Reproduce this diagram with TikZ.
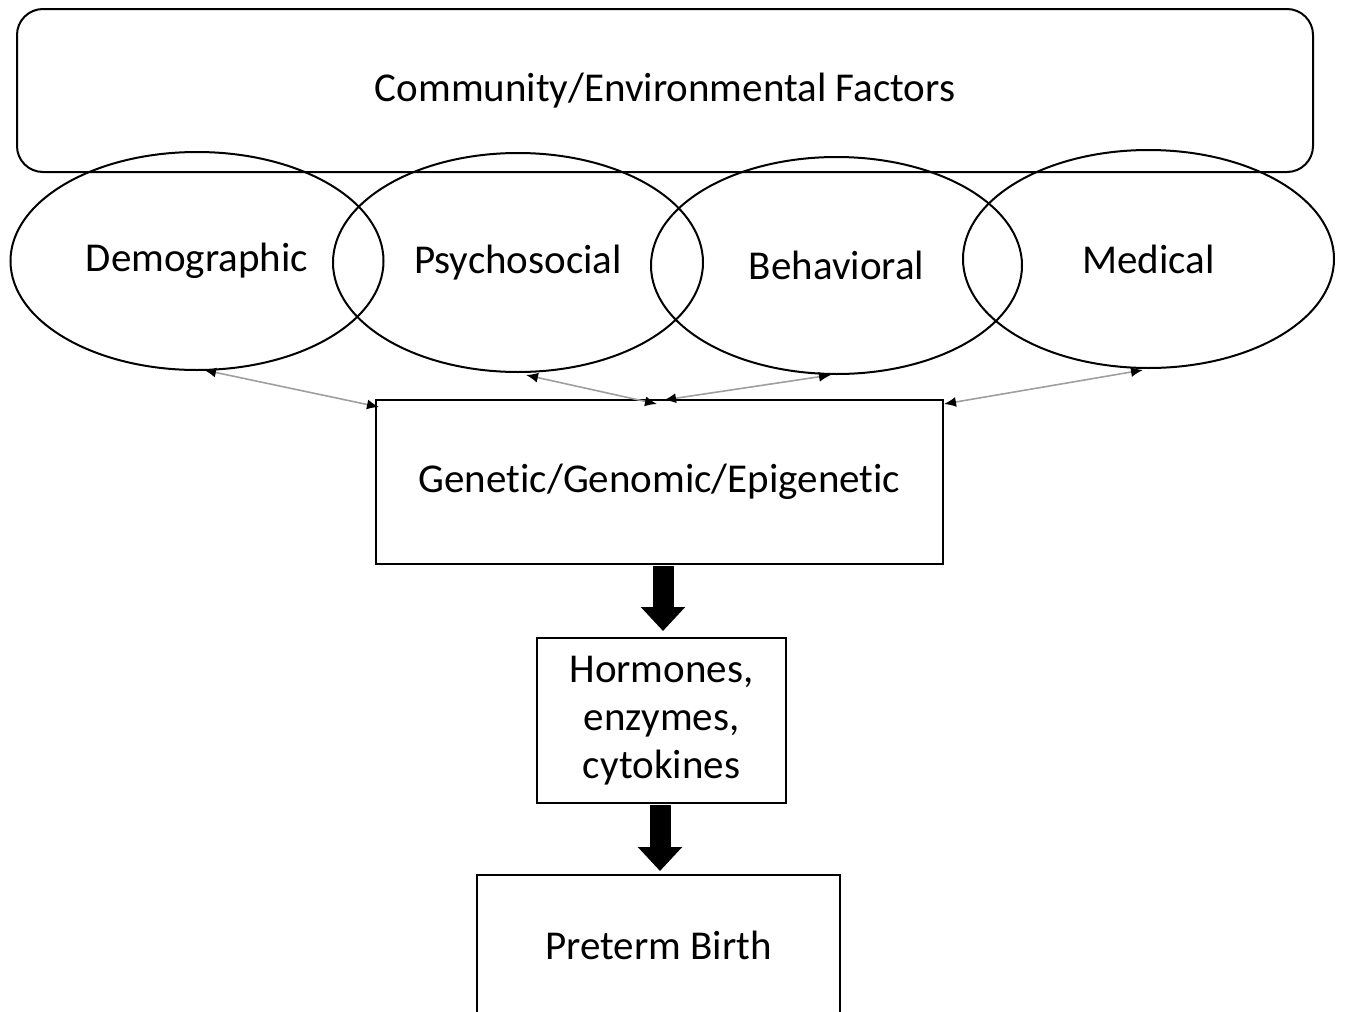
\documentclass[tikz,border=0pt]{standalone}
\usepackage{fontspec}
\setmainfont[Ligatures=NoCommon]{Carlito}
\usetikzlibrary{shapes.geometric,arrows.meta}
\begin{document}
\begin{tikzpicture}[x=1pt,y=-1pt,
  txt/.style={font=\fontsize{41}{48}\selectfont},
  oval/.style={ellipse,draw,line width=2pt,inner sep=0pt,txt},
  boxnode/.style={rectangle,draw,line width=2pt,inner sep=0pt,txt,align=center},
  link/.style={draw=gray!75,line width=1.6pt,{Latex[length=12pt,width=10pt,color=black]}-{Latex[length=12pt,width=10pt,color=black]}},
  bigarrow/.style={line width=21pt,-{Triangle[length=24pt,width=43pt]}}]
\useasboundingbox (0,0) rectangle (1345,1012);
\node[boxnode,rounded corners=26pt,minimum width=1296pt,minimum height=163pt] (env) at (665,90.5) {Community/Environmental Factors};
\node[oval,minimum width=373pt,minimum height=218pt] (dem) at (197,261) {Demographic};
\node[oval,minimum width=370pt,minimum height=219pt] (psy) at (518,262.5) {Psychosocial};
\node[oval,minimum width=371pt,minimum height=217pt] (beh) at (836.5,265.5) {Behavioral};
\node[oval,minimum width=371pt,minimum height=218pt] (med) at (1148.5,259) {Medical};
\node[boxnode,minimum width=567pt,minimum height=164pt] (gen) at (659.5,482) {Genetic/Genomic/Epigenetic};
\node[boxnode,minimum width=249pt,minimum height=165pt] (hor) at (661.5,720.5) {Hormones,\\enzymes,\\cytokines};
\node[boxnode,minimum width=363pt,minimum height=140pt] (pre) at (658.5,945) {Preterm Birth};
\coordinate (d1) at (204,370);
\coordinate (d2) at (379,407);
\coordinate (p1) at (526,375);
\coordinate (p2) at (657,404);
\coordinate (b1) at (831,375);
\coordinate (b2) at (664,400);
\coordinate (m1) at (1143,370);
\coordinate (m2) at (944,404);
\draw[link] (d1) -- (d2);
\draw[link] (p1) -- (p2);
\draw[link] (b1) -- (b2);
\draw[link] (m1) -- (m2);
\draw[bigarrow,shorten <=1pt,shorten >=6pt] (gen.south -| 663,0) -- (hor.north -| 663,0);
\draw[bigarrow,shorten <=1pt,shorten >=3pt] (hor.south -| 660,0) -- (pre.north -| 660,0);
\end{tikzpicture}
\end{document}
